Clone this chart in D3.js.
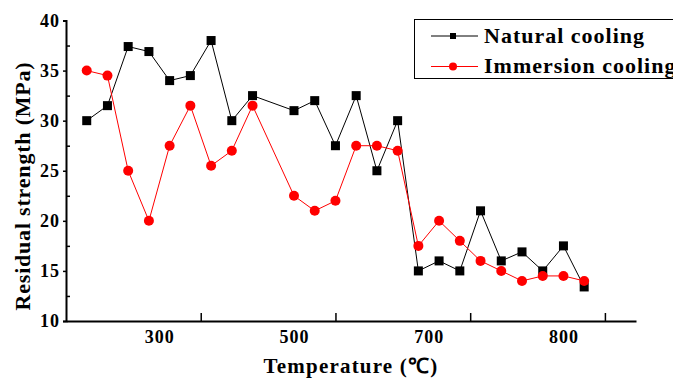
<!DOCTYPE html>
<html>
<head>
<meta charset="utf-8">
<script src="https://d3js.org/d3.v7.min.js"></script>
<style>
  body { margin: 0; background: #fff; }
  text { font-family: "Liberation Serif", "Times New Roman", serif; font-weight: bold; }
</style>
</head>
<body>
<script>
var width = 673, height = 378;

// sample positions along the temperature axis (slot 9 has no sample)
const slots = [0, 1, 2, 3, 4, 5, 6, 7, 8, 10, 11, 12, 13, 14, 15, 16, 17, 18, 19, 20, 21, 22, 23, 24];
const natural = [30, 31.5, 37.4, 36.9, 34, 34.5, 38, 30, 32.5, 31, 32, 27.5, 32.5, 25, 30,
                 15, 16, 15, 21, 16, 16.9, 15, 17.5, 13.4];
const immersion = [35, 34.5, 25, 20, 27.5, 31.5, 25.5, 27, 31.5, 22.5, 21, 22, 27.5, 27.5, 27,
                   17.5, 20, 18, 16, 15, 14, 14.5, 14.5, 14];
const xTickLabels = ["300", "500", "700", "800"];
const xLabelSlots = [3.5, 10, 16.5, 23];
const xTickSlots = [5.5, 12, 18.5, 25];
const yMajor = [10, 15, 20, 25, 30, 35, 40];
const yMinor = [12.5, 17.5, 22.5, 27.5, 32.5, 37.5];

var svg = d3.select("body").append("svg")
    .attr("width", width)
    .attr("height", height);

var x = d3.scaleLinear().domain([-1, 26.5]).range([66, 636]);
var y = d3.scaleLinear().domain([10, 40]).range([321, 20.5]);

// y axis
var yAxis = svg.append("g")
    .attr("transform", "translate(66,0)")
    .call(d3.axisLeft(y).tickValues(yMajor).tickSize(3).tickPadding(3));
yAxis.selectAll("text").style("font-size", "18px").style("letter-spacing", "1px").attr("fill", "#000");
svg.append("g")
    .attr("transform", "translate(66,0)")
    .call(d3.axisLeft(y).tickValues(yMinor).tickSize(-4).tickFormat(""))
    .select(".domain").remove();

// x axis: tick marks and labels sit at different spots
var xAxis = svg.append("g")
    .attr("transform", "translate(0,321)")
    .call(d3.axisBottom(x).tickValues(xTickSlots).tickSize(-8).tickSizeOuter(0).tickFormat(""));
svg.append("g")
    .attr("transform", "translate(0,321)")
    .call(d3.axisBottom(x).tickValues(xLabelSlots).tickSize(0).tickPadding(9)
        .tickFormat(function(d, i) { return xTickLabels[i]; }))
    .call(function(g) { g.select(".domain").remove(); })
    .selectAll("text").style("font-size", "18px").style("letter-spacing", "1px").attr("fill", "#000");

svg.selectAll(".domain").attr("stroke-width", 2);
svg.selectAll(".tick line").attr("stroke-width", 1.5);

// titles
svg.append("text")
    .attr("x", 351).attr("y", 373)
    .attr("text-anchor", "middle")
    .style("font-size", "21px").style("letter-spacing", "1.2px")
    .text("Temperature (\u2103)");
svg.append("text")
    .attr("transform", "translate(30,186) rotate(-90)")
    .attr("text-anchor", "middle")
    .style("font-size", "22px").style("letter-spacing", "0.8px")
    .text("Residual strength (MPa)");

// series
var line = d3.line().x(function(d) { return x(d[0]); }).y(function(d) { return y(d[1]); });
var nat = slots.map(function(s, i) { return [s, natural[i]]; });
var imm = slots.map(function(s, i) { return [s, immersion[i]]; });

svg.append("path").datum(nat).attr("d", line)
    .attr("fill", "none").attr("stroke", "#000").attr("stroke-width", 1);
svg.append("path").datum(imm).attr("d", line)
    .attr("fill", "none").attr("stroke", "#ff0000").attr("stroke-width", 1);

svg.selectAll("rect.nat").data(nat).enter().append("rect")
    .attr("class", "nat")
    .attr("x", function(d) { return x(d[0]) - 4.5; })
    .attr("y", function(d) { return y(d[1]) - 4.5; })
    .attr("width", 9).attr("height", 9)
    .attr("fill", "#000");
svg.selectAll("circle.imm").data(imm).enter().append("circle")
    .attr("class", "imm")
    .attr("cx", function(d) { return x(d[0]); })
    .attr("cy", function(d) { return y(d[1]); })
    .attr("r", 5)
    .attr("fill", "#ff0000");

// legend
var lg = svg.append("g");
lg.append("rect").attr("x", 414.5).attr("y", 19.5).attr("width", 280).attr("height", 59)
    .attr("fill", "#fff").attr("stroke", "#000").attr("stroke-width", 1);
lg.append("line").attr("x1", 431).attr("x2", 478).attr("y1", 36).attr("y2", 36).attr("stroke", "#000");
lg.append("rect").attr("x", 450).attr("y", 33).attr("width", 6).attr("height", 6).attr("fill", "#000");
lg.append("text").attr("x", 484).attr("y", 43).style("font-size", "22px").style("letter-spacing", "1px")
    .text("Natural cooling");
lg.append("line").attr("x1", 431).attr("x2", 478).attr("y1", 66.5).attr("y2", 66.5).attr("stroke", "#ff0000");
lg.append("circle").attr("cx", 453).attr("cy", 66.5).attr("r", 4).attr("fill", "#ff0000");
lg.append("text").attr("x", 484).attr("y", 73).style("font-size", "22px").style("letter-spacing", "1px")
    .text("Immersion cooling");
</script>
</body>
</html>
